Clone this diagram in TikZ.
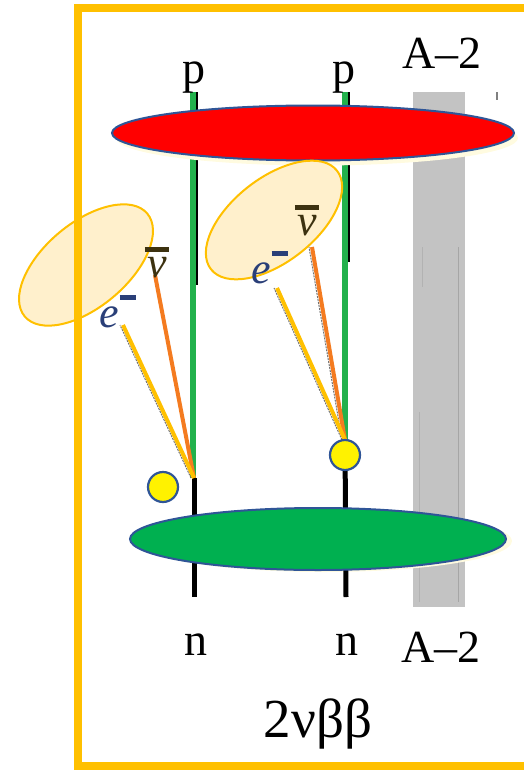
\documentclass[tikz,border=0pt]{standalone}
\usepackage{fontspec}
\setmainfont{Liberation Serif}
\usetikzlibrary{shapes.geometric}

\definecolor{frameorange}{HTML}{FFC000}
\definecolor{cloudfill}{HTML}{FFF0CC}
\definecolor{edgeblue}{HTML}{2F5597}
\definecolor{quarkgreen}{HTML}{22B14C}
\definecolor{nucgreen}{HTML}{00B050}
\definecolor{nuorange}{HTML}{F47B20}
\definecolor{bargray}{HTML}{C3C3C3}
\definecolor{glowyellow}{HTML}{FFFBE0}
\definecolor{nucolor}{HTML}{3D3210}
\definecolor{ecolor}{HTML}{2A3F78}

% lepton labels
\newcommand{\elec}{\textit{e}\kern1pt\raisebox{0.62em}{\rule{0.38em}{0.11em}}}
\newcommand{\antinu}{\ooalign{\textit{ν}\cr\hidewidth\raisebox{0.57em}{\rule{0.55em}{0.11em}}\hidewidth\cr}}

\begin{document}
\begin{tikzpicture}[x=1pt,y=-1pt,
    nucleus/.style={ellipse,draw=edgeblue,line width=2pt,inner sep=0pt},
    glow/.style={ellipse,fill=glowyellow,inner sep=0pt},
    cloud/.style={ellipse,draw=frameorange,fill=cloudfill,line width=2pt,
      minimum width=160pt,minimum height=84pt,inner sep=0pt},
    quark/.style={line width=5.5pt,draw=quarkgreen},
    edge/.style={line width=2pt,draw=black},
    stub/.style={line width=5pt,draw=black},
    electron/.style={line width=4pt,draw=frameorange},
    neutrino/.style={line width=4pt,draw=nuorange},
    ghost/.style={line width=1pt,draw=black!55,dash pattern=on 2pt off 1pt},
    vertexdot/.style={circle,fill=yellow,draw=edgeblue,line width=2.2pt,
      minimum size=30pt,inner sep=0pt},
    lbl/.style={font=\fontsize{46}{50}\selectfont,inner sep=0pt},
    lepl/.style={font=\fontsize{44}{48}\selectfont,inner sep=0pt}]
  \useasboundingbox (0,0) rectangle (523,771);

  % The spectator nucleons.
  \fill[bargray] (413,92) rectangle (465,607);
  \draw[line width=1pt,black!35] (458,247) -- (458,602);
  \draw[line width=1pt,black!30] (422,247) -- (422,287);
  \draw[line width=.8pt,black!30] (419,412) -- (419,602);
  \draw[line width=1.5pt,black!50] (497,92) -- (497,100);
  \node[glow,minimum width=376pt,minimum height=62pt] at (324,541) {};

  % The two decaying neutrons.
  \coordinate (topL) at (193,92);
  \coordinate (topR) at (345,92);
  \coordinate (vL) at (194,478);
  \coordinate (vR) at (345,440);
  \coordinate (botL) at (194,597);
  \coordinate (botR) at (346,597);
  \draw[edge] ([xshift=3.5pt]topL) -- ([xshift=3.5pt]topL |- 0,285);
  \draw[edge] ([xshift=3.5pt]topR) -- ([xshift=3.5pt]topR |- 0,262);
  \draw[quark] (topL) -- (topL |- vL);
  \draw[quark] (topR) -- (vR);
  \draw[stub] (vL) -- (botL);
  \draw[stub] (vR) -- (botR);

  % Initial and final nuclei.
  \node[glow,minimum width=402pt,minimum height=55pt] at (317,138) {};
  \node[nucleus,fill=red,minimum width=402pt,minimum height=55pt] (pnuc) at (313,133) {};
  \node[nucleus,fill=nucgreen,minimum width=376pt,minimum height=62pt] (nnuc) at (318,539) {};

  % The lepton pairs.
  \node[cloud,rotate=40] (cloudL) at (86,265) {};
  \node[cloud,rotate=38] (cloudR) at (274,220) {};
  \coordinate (eL) at (123,325);
  \coordinate (nuL) at (155,275);
  \coordinate (eR) at (277,288);
  \coordinate (nuR) at (312,247);
  \draw[ghost] ([xshift=-3pt]vL) -- ([xshift=-3pt]eL);
  \draw[ghost] ([xshift=-3pt]vR) -- ([xshift=-3pt]eR);
  \draw[ghost] ([xshift=-3pt]vR) -- ([xshift=-3pt]nuR);
  \draw[neutrino] (vL) -- (nuL);
  \draw[electron] (vL) -- (eL);
  \draw[neutrino] (vR) -- (nuR);
  \draw[electron] (vR) -- (eR);

  \node[vertexdot] (dotL) at (163,487) {};
  \node[vertexdot] (dotR) at (345,455) {};

  \node[lepl,text=ecolor,anchor=base west] (elabL) at (99,327) {\elec};
  \node[lepl,text=nucolor,anchor=base] (nulabL) at (157,277) {\antinu};
  \node[lepl,text=ecolor,anchor=base west] (elabR) at (251,283) {\elec};
  \node[lepl,text=nucolor,anchor=base] (nulabR) at (307,235) {\antinu};

  % Labels.
  \node[lbl,anchor=base] (pL) at (194,83) {p};
  \node[lbl,anchor=base] (pR) at (344,83) {p};
  \node[lbl,anchor=base] (nL) at (196,655) {n};
  \node[lbl,anchor=base] (nR) at (347,655) {n};
  \node[lbl,anchor=base] (restT) at (442,68) {A–2};
  \node[lbl,anchor=base] (restB) at (441,662) {A–2};
  \node[font=\fontsize{55}{60}\selectfont,inner sep=0pt,anchor=base] (mode) at (318,737) {2νββ};

  % Frame.
  \draw[frameorange,line width=8pt] (78,8) rectangle (545,766);
\end{tikzpicture}
\end{document}
